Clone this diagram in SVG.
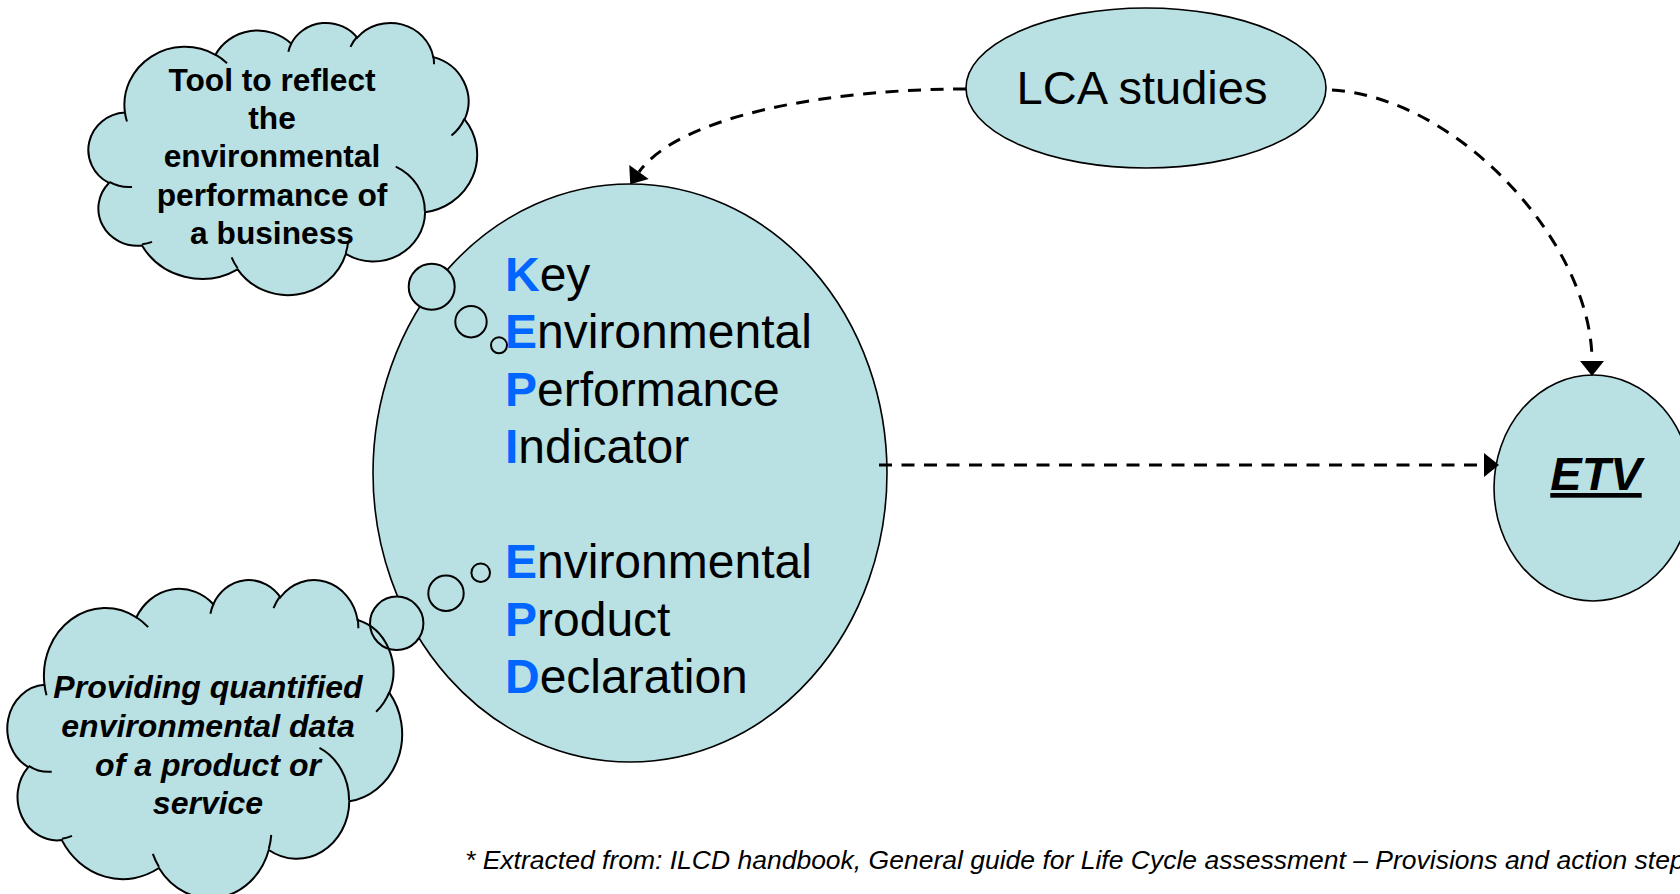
<svg xmlns="http://www.w3.org/2000/svg" xmlns:xlink="http://www.w3.org/1999/xlink" width="1680" height="894" viewBox="0 0 1680 894">
<style>
.shape{fill:#B9E0E3;stroke:#000;stroke-width:1.6}
.bubfill{fill:#B9E0E3;stroke:none}
.bubline{fill:none;stroke:#000;stroke-width:2}
.conn{fill:none;stroke:#000;stroke-width:3;stroke-dasharray:13 9.5}
.sans{font-family:"Liberation Sans",Arial,sans-serif;fill:#000}
.big{font-size:48px}
.ini{font-weight:bold;fill:#0066FF}
.cloudtxt{font-size:31.7px;font-weight:bold;text-anchor:middle}
.cloudtxt2{font-size:32px;font-weight:bold;font-style:italic;text-anchor:middle}
</style>
<defs>
<marker id="arr" markerUnits="userSpaceOnUse" markerWidth="16" markerHeight="24" viewBox="0 0 15 24" refX="0" refY="12" orient="auto">
<path d="M0 0 L15 12 L0 24 Z" fill="#000"/>
</marker>
<path id="cloudBody" d="M3900 14370 A6753 9190 0 0 1 14005 5202 A5333 7267 0 0 1 22456 3432 A4365 5945 0 0 1 29833 2481 A4857 6595 0 0 1 38319 5577 A5333 7273 0 0 1 41818 15463 A6775 9220 0 0 1 37404 30206 A5785 7867 0 0 1 28556 36816 A6752 9215 0 0 1 16480 39265 A7720 10543 0 0 1 5804 35472 A4360 5918 0 0 1 2112 25550 A4345 5945 0 0 1 3900 14370 Z" fill="#B9E0E3" stroke="#000" stroke-width="2" vector-effect="non-scaling-stroke"/>
<path id="cloudLines" d="M4693 26177 A4345 5945 0 0 1 2160 25380 M6928 34899 A4360 5918 0 0 1 5819 35281 M16478 39090 A6752 9215 0 0 1 15811 37351 M28827 34751 A6752 9215 0 0 1 28560 36661 M34129 22954 A5785 7867 0 0 1 37381 30090 M41798 15354 A5333 7273 0 0 1 40351 18027 M38324 5426 A4857 6595 0 0 1 38400 6690 M29078 3952 A4857 6595 0 0 1 29820 2340 M22141 4720 A4365 5945 0 0 1 22500 3330 M14000 5192 A6753 9190 0 0 1 15300 6541 M4127 15789 A6753 9190 0 0 1 3900 14370" fill="none" stroke="#000" stroke-width="2" vector-effect="non-scaling-stroke"/>
</defs>

<g id="kepi-epd">
<ellipse class="shape" cx="630" cy="473" rx="257" ry="289"/>
<text class="sans big" x="505" y="290.5"><tspan class="ini">K</tspan>ey</text>
<text class="sans big" x="505" y="348"><tspan class="ini">E</tspan>nvironmental</text>
<text class="sans big" x="505" y="405.5"><tspan class="ini">P</tspan>erformance</text>
<text class="sans big" x="505" y="463"><tspan class="ini">I</tspan>ndicator</text>
<text class="sans big" x="505" y="578"><tspan class="ini">E</tspan>nvironmental</text>
<text class="sans big" x="505" y="635.5"><tspan class="ini">P</tspan>roduct</text>
<text class="sans big" x="505" y="693"><tspan class="ini">D</tspan>eclaration</text>
</g>

<g id="lca">
<ellipse class="shape" cx="1146" cy="88" rx="180" ry="80"/>
<text class="sans" x="1142" y="104" font-size="47" text-anchor="middle">LCA studies</text>
</g>

<g id="etv">
<ellipse class="shape" cx="1593" cy="488" rx="99" ry="113"/>
<text class="sans" x="1596" y="490" font-size="47" font-weight="bold" font-style="italic" text-anchor="middle" text-decoration="underline">ETV</text>
</g>

<g id="cloud-kepi">
<circle class="bubfill" cx="431.7" cy="286.7" r="23"/>
<circle class="bubfill" cx="471" cy="321.7" r="15.7"/>
<circle class="bubfill" cx="499" cy="345.3" r="8"/>
<g transform="translate(90 22) scale(0.0089583 0.0063)">
<use xlink:href="#cloudBody"/>
<use xlink:href="#cloudLines"/>
</g>
<circle class="bubline" cx="431.7" cy="286.7" r="23"/>
<circle class="bubline" cx="471" cy="321.7" r="15.7"/>
<circle class="bubline" cx="499" cy="345.3" r="8"/>
<text class="sans cloudtxt" x="272" y="91">Tool to reflect</text>
<text class="sans cloudtxt" x="272" y="129.2">the</text>
<text class="sans cloudtxt" x="272" y="167.4">environmental</text>
<text class="sans cloudtxt" x="272" y="205.6">performance of</text>
<text class="sans cloudtxt" x="272" y="243.8">a business</text>
</g>

<g id="cloud-epd">
<circle class="bubfill" cx="396.7" cy="623.3" r="26.7"/>
<circle class="bubfill" cx="446" cy="593.3" r="17.7"/>
<circle class="bubfill" cx="480.7" cy="572.7" r="9.3"/>
<g transform="translate(9 579) scale(0.0090972 0.0073611)">
<use xlink:href="#cloudBody"/>
<use xlink:href="#cloudLines"/>
</g>
<circle class="bubline" cx="396.7" cy="623.3" r="26.7"/>
<circle class="bubline" cx="446" cy="593.3" r="17.7"/>
<circle class="bubline" cx="480.7" cy="572.7" r="9.3"/>
<text class="sans cloudtxt2" x="208" y="698.3">Providing quantified</text>
<text class="sans cloudtxt2" x="208" y="737">environmental data</text>
<text class="sans cloudtxt2" x="208" y="775.7">of a product or</text>
<text class="sans cloudtxt2" x="208" y="814.4">service</text>
</g>

<g id="connectors">
<path class="conn" d="M966 89 C830 89 680 115 639 172" marker-end="url(#arr)"/>
<path class="conn" d="M1332 90 C1460 98 1592 245 1592 361" marker-end="url(#arr)"/>
<path class="conn" d="M879 465 L1484 465" marker-end="url(#arr)"/>
</g>

<g id="footnote">
<text class="sans" x="465" y="869" font-size="26.5" font-style="italic">* Extracted from: ILCD handbook, General guide for Life Cycle assessment – Provisions and action step</text>
</g>
</svg>
